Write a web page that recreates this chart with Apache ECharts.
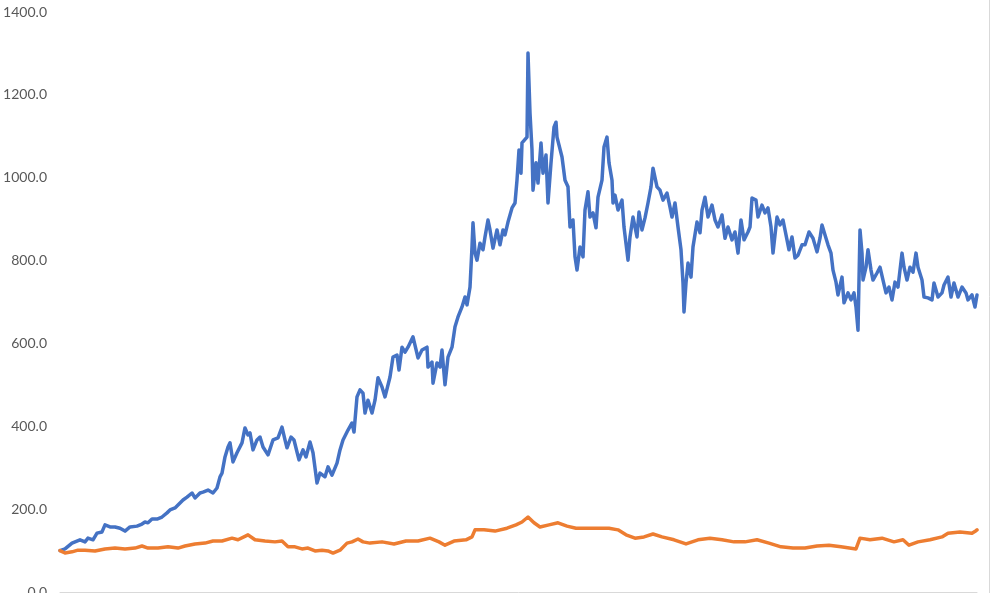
<!DOCTYPE html>
<html>
<head>
<meta charset="utf-8">
<script src="https://cdn.jsdelivr.net/npm/echarts@6/dist/echarts.min.js"></script>
<style>
html,body{margin:0;padding:0;background:#fff;}
#chart{width:991px;height:593px;}
</style>
</head>
<body>
<div id="chart"></div>
<script>
// Day index (x) and value (y) for each series
var blueDay = [0,5,12,20,25,28,33,37,42,45,50,55,60,65,70,77,82,85,88,92,97,102,107,110,115,118,123,127,132,135,138,140,143,148,153,157,160,162,165,168,170,173,177,182,185,188,190,193,197,200,203,208,213,218,222,225,227,231,234,237,239,243,246,250,253,257,260,265,268,272,277,280,283,288,292,294,297,300,303,305,308,312,315,318,322,325,330,333,337,339,342,345,348,353,358,362,367,368,372,373,377,380,382,385,388,392,395,398,402,405,407,410,412,413,415,417,420,423,425,428,430,433,437,440,443,445,448,452,455,457,459,461,462,464,467,468,470,472,473,476,478,481,483,486,488,491,494,496,497,502,505,508,510,513,515,517,520,523,525,528,530,533,536,538,542,544,547,549,552,553,555,558,562,564,568,570,573,577,579,582,585,588,591,593,597,600,603,607,610,612,615,618,621,623,624,626,628,631,633,637,640,642,645,648,652,655,658,662,665,668,672,675,678,681,684,688,690,692,696,698,702,705,708,711,713,717,720,723,727,729,732,735,738,742,745,749,753,757,760,762,766,768,771,773,776,778,782,784,788,791,794,796,798,800,802,803,806,808,811,813,817,820,823,826,829,832,835,838,842,844,847,850,853,856,858,862,864,868,872,874,878,882,884,888,891,894,898,902,906,908,912,915,917];
var blueVal = [100,104,118,126,121,130,126,142,145,162,157,157,154,147,157,159,164,169,167,176,176,181,191,198,203,210,222,229,239,227,234,239,241,246,239,251,278,287,326,350,360,314,336,360,396,379,384,343,367,374,350,331,367,372,398,367,348,374,367,338,319,343,326,362,336,263,287,278,302,282,311,343,367,391,408,386,471,488,480,432,463,432,463,517,495,471,519,567,572,536,591,579,591,616,565,584,591,543,555,504,553,543,584,500,567,591,640,664,688,712,693,736,833,891,818,801,842,826,857,898,874,830,874,838,874,862,893,927,939,994,1067,1011,1084,1084,1098,1301,1156,1067,970,1036,987,1084,1011,1055,939,1036,1122,1134,1098,1050,994,978,881,898,809,777,833,809,922,966,905,915,879,953,994,1074,1098,1036,994,939,958,922,946,881,801,857,905,857,917,874,903,939,978,1023,978,970,946,963,929,905,939,881,826,746,676,746,794,760,833,893,867,922,953,905,934,898,881,910,854,881,850,869,818,898,850,869,881,951,946,905,934,915,927,881,818,905,886,898,850,826,857,806,813,838,838,869,854,821,854,886,854,838,818,777,748,717,760,698,722,705,722,688,632,874,818,753,784,826,777,753,770,784,753,722,736,705,748,736,818,784,753,784,772,818,784,753,712,710,705,746,712,722,741,760,712,746,712,736,722,705,717,688,717];

var orangeDay = [0,5,12,18,25,35,45,55,65,75,82,88,98,108,118,125,135,145,153,162,172,178,188,195,205,215,222,228,235,242,248,255,262,268,273,280,287,292,298,303,310,322,334,346,358,370,379,385,394,406,412,415,424,435,447,456,462,468,474,480,489,498,507,516,528,540,549,558,566,575,584,593,602,614,626,638,650,662,674,685,697,709,721,733,745,757,769,781,796,798,800,810,822,834,843,849,858,870,882,888,900,912,916,917];
var orangeVal = [100,94,97,101,101,99,104,106,104,106,111,106,106,109,106,111,116,118,123,123,130,126,138,126,123,121,123,109,109,104,106,99,101,99,94,101,118,121,128,121,118,121,116,123,123,130,121,113,123,126,133,150,150,147,154,162,169,181,167,157,162,167,159,154,154,154,154,150,138,130,133,140,133,126,116,126,130,126,121,121,126,118,109,106,106,111,113,109,104,101,130,126,130,121,126,113,121,126,133,142,145,142,148,150];

var yTicks = [0,200,400,600,800,1000,1200,1400];

function pairs(xs, ys){ var out=[]; for(var i=0;i<xs.length;i++){ out.push([xs[i], ys[i]]); } return out; }

var chart = echarts.init(document.getElementById('chart'), null, {renderer:'canvas'});
chart.setOption({
  animation:false,
  backgroundColor:'#ffffff',
  grid:{left:60, right:14, top:12, bottom:1, containLabel:false, outerBoundsMode:'none'},
  xAxis:{
    type:'value', min:0, max:917,
    axisLine:{show:true, lineStyle:{color:'#d9d9d9', width:1}},
    axisTick:{show:false}, axisLabel:{show:false}, splitLine:{show:false}
  },
  yAxis:{
    type:'value', min:yTicks[0], max:yTicks[yTicks.length-1], interval:200,
    axisLine:{show:false}, axisTick:{show:false}, splitLine:{show:false},
    axisLabel:{color:'#595959', fontSize:14, fontFamily:'Lato, "Open Sans", sans-serif', margin:13,
      formatter:function(v){ return v.toFixed(1); }}
  },
  graphic:[{type:'line', shape:{x1:989.5,y1:0,x2:989.5,y2:593}, style:{stroke:'#d9d9d9', lineWidth:1}, silent:true}],
  series:[
    {type:'line', data:pairs(blueDay, blueVal), showSymbol:false, symbol:'none',
     lineStyle:{color:'#4472C4', width:3.5, join:'round', cap:'round'}, itemStyle:{color:'#4472C4'}},
    {type:'line', data:pairs(orangeDay, orangeVal), showSymbol:false, symbol:'none',
     lineStyle:{color:'#ED7D31', width:3.5, join:'round', cap:'round'}, itemStyle:{color:'#ED7D31'}}
  ]
});
</script>
</body>
</html>
